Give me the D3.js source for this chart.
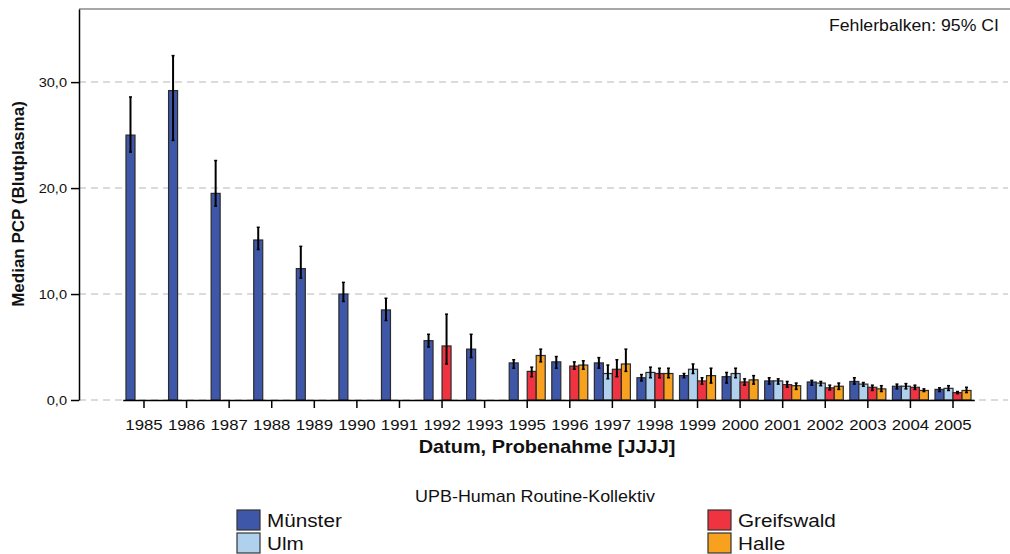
<!DOCTYPE html>
<html>
<head>
<meta charset="utf-8">
<script src="https://cdn.jsdelivr.net/npm/d3@7"></script>
<style>
  body { margin: 0; background: #fff; }
  text { font-family: "Liberation Sans", Arial, sans-serif; fill: #111; }
</style>
</head>
<body>
<div id="chart"></div>
<script>
// categories (1994 is missing in the source)
const years = ["1985","1986","1987","1988","1989","1990","1991","1992","1993",
  "1995","1996","1997","1998","1999","2000","2001","2002","2003","2004","2005"];
const seriesNames = ["Münster", "Ulm", "Greifswald", "Halle"];
const seriesColors = ["#3f57a9", "#b0d1ee", "#ef3340", "#f7a11f"];
const yTicks = [0, 10, 20, 30];

// median values and 95% CI per series (null = no data)
const muenster   = [25.0, 29.2, 19.5, 15.1, 12.4, 10.0, 8.5, 5.6, 4.8, 3.5, 3.6, 3.5, 2.1, 2.3, 2.2, 1.8, 1.7, 1.75, 1.3, 1.0];
const muensterLo = [23.4, 24.5, 18.3, 14.2, 11.5, 9.3, 7.5, 5.0, 4.0, 3.0, 3.0, 3.0, 1.8, 2.1, 1.6, 1.5, 1.4, 1.5, 1.05, 0.8];
const muensterHi = [28.6, 32.5, 22.6, 16.3, 14.5, 11.1, 9.6, 6.2, 6.2, 3.8, 4.1, 4.0, 2.4, 2.5, 2.6, 2.1, 1.85, 2.1, 1.5, 1.15];

const ulm   = [null, null, null, null, null, null, null, null, null, null, null, 2.5, 2.6, 2.9, 2.5, 1.8, 1.6, 1.5, 1.3, 1.1];
const ulmLo = [null, null, null, null, null, null, null, null, null, null, null, 2.0, 2.1, 2.5, 2.1, 1.5, 1.35, 1.3, 1.05, 0.9];
const ulmHi = [null, null, null, null, null, null, null, null, null, null, null, 3.3, 3.1, 3.4, 3.0, 2.0, 1.75, 1.65, 1.55, 1.35];

const greifswald   = [null, null, null, null, null, null, null, 5.1, null, 2.7, 3.2, 2.9, 2.5, 1.8, 1.7, 1.45, 1.15, 1.2, 1.2, 0.7];
const greifswaldLo = [null, null, null, null, null, null, null, 3.4, null, 2.2, 2.9, 2.2, 2.1, 1.5, 1.4, 1.2, 0.95, 0.9, 1.0, 0.6];
const greifswaldHi = [null, null, null, null, null, null, null, 8.1, null, 3.1, 3.6, 3.8, 3.0, 2.1, 2.0, 1.75, 1.4, 1.4, 1.4, 0.8];

const halle   = [null, null, null, null, null, null, null, null, null, 4.2, 3.3, 3.4, 2.5, 2.3, 1.9, 1.35, 1.3, 1.05, 0.9, 0.9];
const halleLo = [null, null, null, null, null, null, null, null, null, 3.6, 2.9, 2.7, 2.1, 1.6, 1.5, 1.0, 1.0, 0.8, 0.8, 0.7];
const halleHi = [null, null, null, null, null, null, null, null, null, 4.8, 3.7, 4.8, 3.0, 3.0, 2.3, 1.6, 1.6, 1.35, 1.05, 1.2];

const valueSets = [
  [muenster, muensterLo, muensterHi],
  [ulm, ulmLo, ulmHi],
  [greifswald, greifswaldLo, greifswaldHi],
  [halle, halleLo, halleHi]
];

const bars = [];
valueSets.forEach((s, si) => {
  years.forEach((yr, i) => {
    if (s[0][i] == null) return;
    bars.push({ year: yr, series: seriesNames[si], color: seriesColors[si], v: s[0][i], lo: s[1][i], hi: s[2][i] });
  });
});

const W = 1010, H = 554;
const plot = { left: 79, top: 9, right: 1008, bottom: 400 };
const sx = 1.12; // source text looks horizontally stretched

const svg = d3.select("#chart").append("svg")
  .attr("width", W).attr("height", H);

const y = d3.scaleLinear().domain([0, 36.9]).range([plot.bottom, plot.top]);
const x = d3.scaleBand().domain(years).range([122.7, 974.3]).padding(0);
const x1 = d3.scaleBand().domain(seriesNames).range([0, x.bandwidth()]).paddingInner(0).paddingOuter(0.365);

// dashed grid lines
svg.append("g").selectAll("line").data(yTicks).join("line")
  .attr("x1", plot.left).attr("x2", plot.right)
  .attr("y1", d => y(d)).attr("y2", d => y(d))
  .attr("stroke", "#cfcfcf").attr("stroke-width", 1.5)
  .attr("stroke-dasharray", "7,5");

// top frame line
svg.append("line")
  .attr("x1", plot.left).attr("x2", W).attr("y1", plot.top).attr("y2", plot.top)
  .attr("stroke", "#8a8a8a").attr("stroke-width", 1.5);

// bars
svg.append("g").selectAll("rect").data(bars).join("rect")
  .attr("x", d => x(d.year) + x1(d.series))
  .attr("y", d => y(d.v))
  .attr("width", x1.bandwidth())
  .attr("height", d => y(0) - y(d.v))
  .attr("fill", d => d.color)
  .attr("stroke", "#2b2b2b").attr("stroke-width", 1.2);

// error bars
const eb = svg.append("g").selectAll("g").data(bars).join("g")
  .attr("transform", d => `translate(${x(d.year) + x1(d.series) + x1.bandwidth() / 2},0)`);
eb.append("line")
  .attr("y1", d => y(d.lo)).attr("y2", d => y(d.hi))
  .attr("stroke", "#000").attr("stroke-width", 2);
eb.append("line")
  .attr("x1", -1.5).attr("x2", 1.5).attr("y1", d => y(d.hi)).attr("y2", d => y(d.hi))
  .attr("stroke", "#000").attr("stroke-width", 1.5);
eb.append("line")
  .attr("x1", -1.5).attr("x2", 1.5).attr("y1", d => y(d.lo)).attr("y2", d => y(d.lo))
  .attr("stroke", "#000").attr("stroke-width", 1.5);

// y axis
const fmt = d => d3.format(".1f")(d).replace(".", ",");
const gy = svg.append("g").attr("transform", `translate(${plot.left},0)`)
  .call(d3.axisLeft(y).tickValues(yTicks).tickFormat(fmt).tickSize(8).tickSizeOuter(0).tickPadding(2.7));
gy.select(".domain").attr("stroke", "#000").attr("stroke-width", 1.5);
gy.selectAll(".tick line").attr("stroke", "#000").attr("stroke-width", 1.5);
gy.selectAll(".tick text").attr("font-size", 13).attr("font-family", null)
  .attr("transform", `scale(${sx},1)`);

// x axis
const gx = svg.append("g").attr("transform", `translate(0,${plot.bottom})`)
  .call(d3.axisBottom(x).tickSize(8).tickSizeOuter(0).tickPadding(11.3));
gx.select(".domain").attr("stroke", "#000").attr("stroke-width", 1.5);
gx.selectAll(".tick line").attr("stroke", "#000").attr("stroke-width", 1.5);
gx.selectAll(".tick text").attr("font-size", 15).attr("font-family", null)
  .attr("transform", `scale(${sx},1)`);

// titles
svg.append("text")
  .attr("transform", `translate(24,204) rotate(-90)`)
  .attr("text-anchor", "middle").attr("font-size", 17).attr("font-weight", "bold")
  .text("Median PCP (Blutplasma)");

svg.append("text")
  .attr("transform", `translate(547,453) scale(${sx},1)`)
  .attr("text-anchor", "middle").attr("font-size", 17.8).attr("font-weight", "bold")
  .text("Datum, Probenahme [JJJJ]");

svg.append("text")
  .attr("transform", `translate(999,31) scale(${sx},1)`)
  .attr("text-anchor", "end").attr("font-size", 15.8)
  .text("Fehlerbalken: 95% CI");

// legend
svg.append("text")
  .attr("transform", `translate(535,502) scale(${sx},1)`)
  .attr("text-anchor", "middle").attr("font-size", 16)
  .text("UPB-Human Routine-Kollektiv");

const legendPos = [[237, 510], [237, 533], [708, 510], [708, 533]];
const lg = svg.append("g").selectAll("g").data(seriesNames).join("g")
  .attr("transform", (d, i) => `translate(${legendPos[i][0]},${legendPos[i][1]})`);
lg.append("rect")
  .attr("width", 23).attr("height", 20)
  .attr("fill", (d, i) => seriesColors[i])
  .attr("stroke", "#333").attr("stroke-width", 1.2);
lg.append("text")
  .attr("transform", `translate(30,17) scale(${sx},1)`)
  .attr("font-size", 18.5)
  .text(d => d);
</script>
</body>
</html>
